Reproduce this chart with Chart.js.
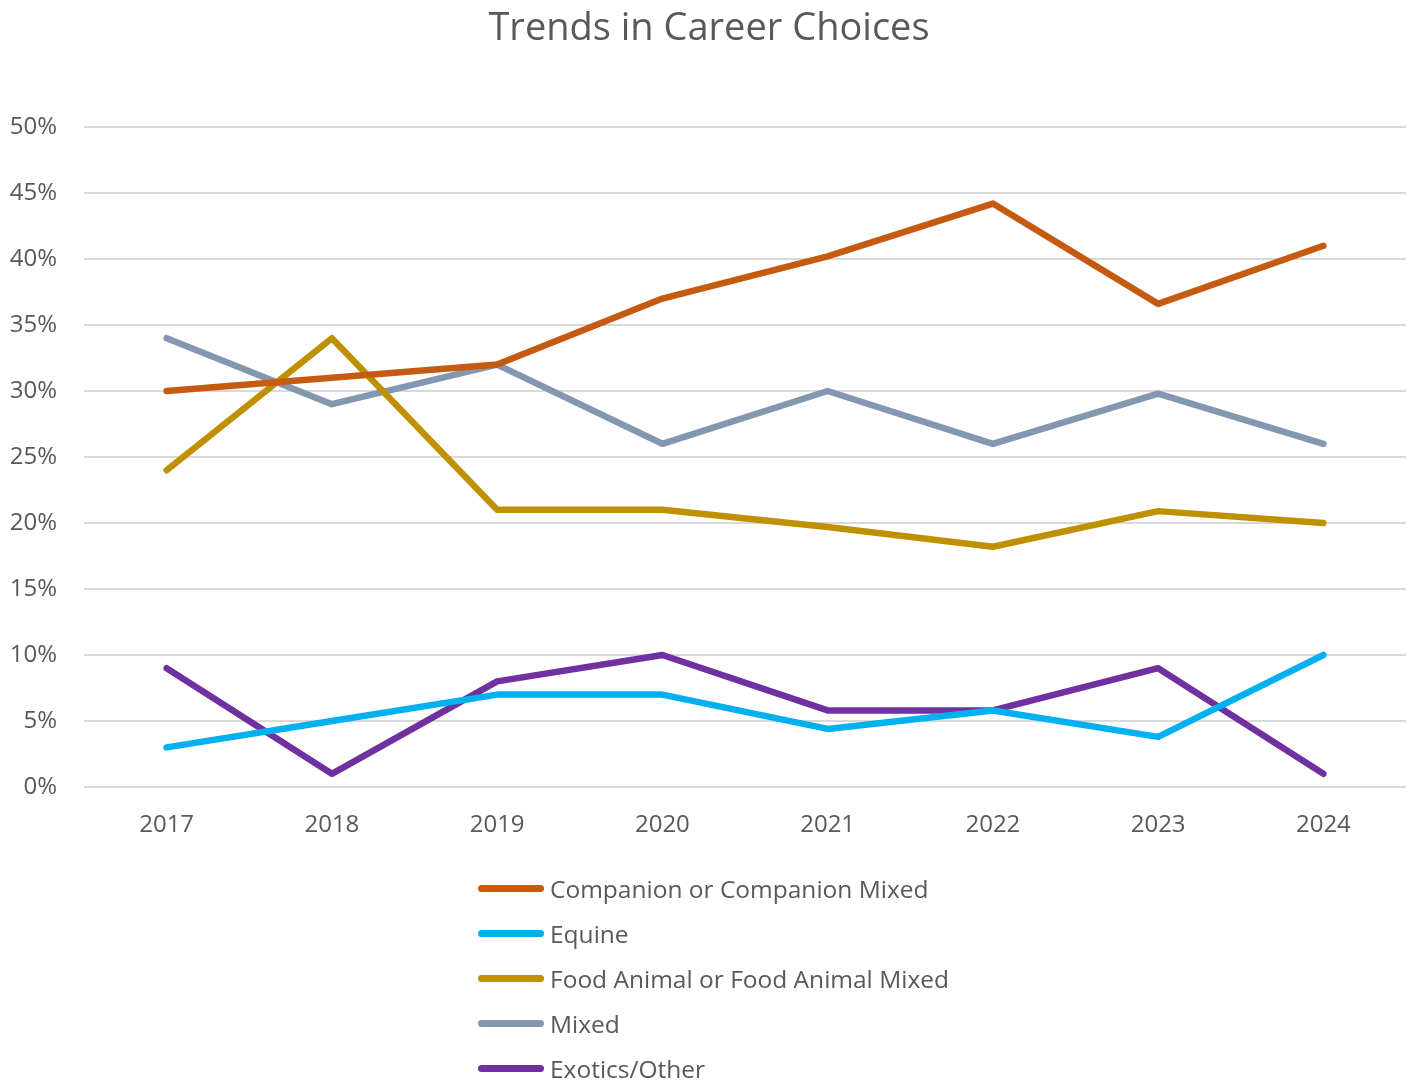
<!DOCTYPE html>
<html>
<head>
<meta charset="utf-8">
<title>Trends in Career Choices</title>
<script src="https://cdn.jsdelivr.net/npm/chart.js@4.4.1/dist/chart.umd.min.js"></script>
<style>
  html, body { margin: 0; padding: 0; background: #fff; }
  #wrap { position: relative; width: 1418px; height: 1091px; font-family: "Open Sans", sans-serif; color: #595959; }
  #chart { position: absolute; left: 0; top: 0; }
  #title { position: absolute; left: 0; top: -2px; width: 1418px; text-align: center; font-size: 38px; line-height: 54px; }
  #legend { position: absolute; left: 478px; top: 866px; }
  .legend-row { display: flex; align-items: center; height: 45px; font-size: 24.5px; }
  .legend-line { width: 66px; height: 7px; border-radius: 3.5px; margin-right: 6px; }
</style>
</head>
<body>
<div id="wrap">
  <canvas id="chart" width="1418" height="1091"></canvas>
  <div id="title">Trends in Career Choices</div>
  <div id="legend"></div>
</div>
<script>
  const YEARS = ['2017', '2018', '2019', '2020', '2021', '2022', '2023', '2024'];

  const SERIES_NAMES = [
    'Companion or Companion Mixed',
    'Equine',
    'Food Animal or Food Animal Mixed',
    'Mixed',
    'Exotics/Other'
  ];
  const SERIES_COLORS = ['#C55A11', '#00B0F0', '#BF9000', '#8497B0', '#7030A0'];

  // percent values
  const companion = [30, 31, 32, 37, 40.2, 44.2, 36.6, 41];
  const equine = [3, 5, 7, 7, 4.4, 5.8, 3.8, 10];
  const foodAnimal = [24, 34, 21, 21, 19.7, 18.2, 20.9, 20];
  const mixed = [34, 29, 32, 26, 30, 26, 29.8, 26];
  const exotics = [9, 1, 8, 10, 5.8, 5.8, 9, 1];

  const Y_MIN = 0;
  const Y_MAX = 50;
  const Y_STEP = 5;

  const seriesData = [companion, equine, foodAnimal, mixed, exotics];

  function buildLegend() {
    var box = document.getElementById('legend');
    SERIES_NAMES.forEach(function (name, i) {
      var row = document.createElement('div');
      row.className = 'legend-row';
      var line = document.createElement('span');
      line.className = 'legend-line';
      line.style.background = SERIES_COLORS[i];
      var txt = document.createElement('span');
      txt.textContent = name;
      row.appendChild(line);
      row.appendChild(txt);
      box.appendChild(row);
    });
  }

  function initChart() {
    var ctx = document.getElementById('chart').getContext('2d');
    var datasets = SERIES_NAMES.map(function (name, i) {
      return {
        label: name,
        data: seriesData[i],
        borderColor: SERIES_COLORS[i],
        backgroundColor: SERIES_COLORS[i],
        borderWidth: 6.5,
        borderCapStyle: 'round',
        borderJoinStyle: 'round',
        pointRadius: 0,
        pointHoverRadius: 0,
        tension: 0,
        fill: false
      };
    });

    new Chart(ctx, {
      type: 'line',
      data: { labels: YEARS, datasets: datasets },
      options: {
        responsive: false,
        animation: false,
        layout: { padding: { top: 127, right: 12, left: 0, bottom: 0 } },
        plugins: {
          legend: { display: false },
          title: { display: false },
          tooltip: { enabled: false }
        },
        scales: {
          x: {
            offset: true,
            grid: { display: false, drawTicks: false },
            border: { display: false },
            ticks: {
              color: '#595959',
              padding: 24,
              font: { family: 'Open Sans', size: 24 }
            },
            afterFit: function (scale) { scale.height = 304; }
          },
          y: {
            min: Y_MIN,
            max: Y_MAX,
            grid: { color: '#D9D9D9', lineWidth: 2, drawTicks: false },
            border: { display: false },
            ticks: {
              stepSize: Y_STEP,
              color: '#595959',
              padding: 27,
              font: { family: 'Open Sans', size: 24 },
              callback: function (v) { return v + '%'; }
            },
            afterFit: function (scale) { scale.width = 84; }
          }
        }
      }
    });
  }

  buildLegend();
  initChart();
</script>
</body>
</html>
